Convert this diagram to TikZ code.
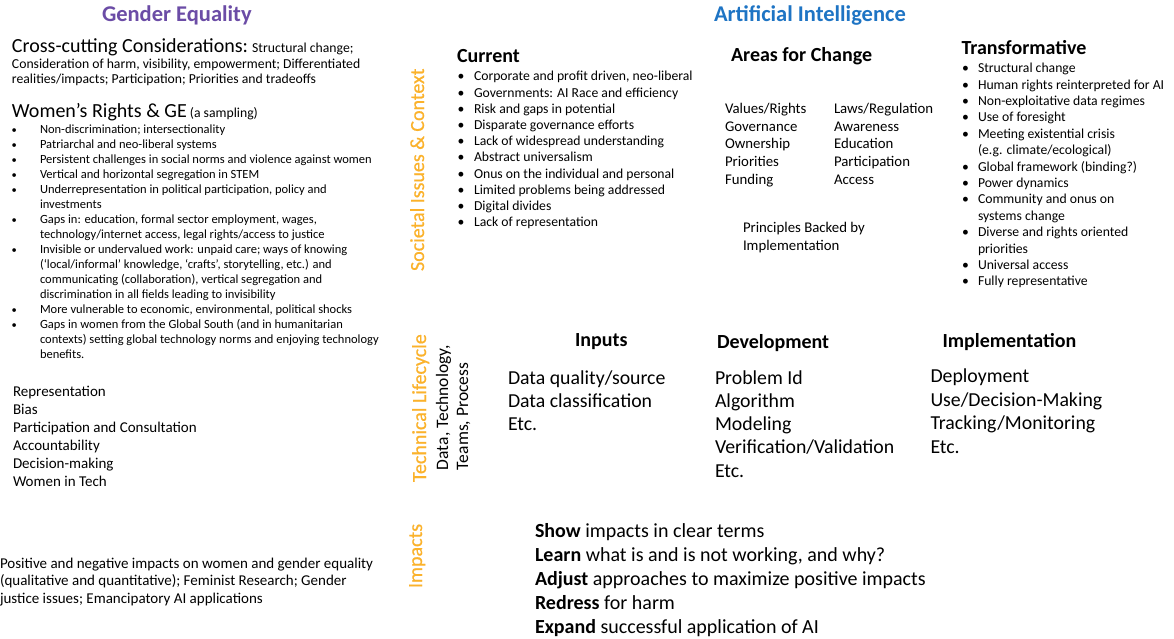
\documentclass[tikz,border=0pt]{standalone}
\usepackage{fontspec}
\setmainfont{Carlito}
\definecolor{gepurple}{HTML}{6B4CA6}
\definecolor{aiblue}{HTML}{1E74C4}
\definecolor{sideorange}{HTML}{FBB22B}
\newcommand{\fsz}[2]{\fontsize{#1pt}{#2pt}\selectfont}
\tikzset{
  txt/.style={anchor=base west, inner sep=0pt, outer sep=0pt},
  ttl/.style={txt, font=\fsz{22.5}{26}\bfseries},
  hdr/.style={txt, font=\fsz{20}{24}\bfseries},
  big/.style={txt, font=\fsz{20}{24}},
  smalltxt/.style={txt, font=\fsz{13.7}{15.3}},
  gebul/.style={txt, font=\fsz{12.5}{15}},
  gelist/.style={txt, font=\fsz{15}{17.9}},
  curlist/.style={txt, font=\fsz{13.7}{16.2}},
  translist/.style={txt, font=\fsz{13.7}{16.4}},
  grid/.style={txt, font=\fsz{14.8}{17.75}},
  lifelist/.style={txt, font=\fsz{19.8}{23.4}},
  implist/.style={txt, font=\fsz{20}{24.1}},
  side/.style={txt, rotate=90, text=sideorange, font=\fsz{20}{24}\addfontfeature{FakeBold=0.6}},
  sidesub/.style={txt, rotate=90, font=\fsz{17.5}{20}},
}
\begin{document}
\begin{tikzpicture}[x=1pt,y=-1pt]
\fill[white] (0,0) rectangle (1174,639);
\useasboundingbox (0,0) rectangle (1174,639);

% ---------------- Gender Equality column
\node[ttl, text=gepurple] (getitle) at (102,22) {Gender Equality};
\node[big] (cc1) at (12,53) {Cross-cutting Considerations:{\fsz{13.7}{15.3} Structural change;}};
\node[smalltxt] (cc2) at (12,68.3) {\begin{tabular}[t]{@{}l@{}}
Consideration of harm, visibility, empowerment; Differentiated\\
realities/impacts; Participation; Priorities and tradeoffs
\end{tabular}};
\node[big] (wr) at (12,117.3) {Women’s Rights \& GE{\fsz{13.7}{15} (a sampling)}};
\node[gebul] (wrlist) at (11.5,133.3) {\begin{tabular}[t]{@{}p{28.5pt}@{}l@{}}
{\fsz{10.5}{15}•} & Non-discrimination; intersectionality\\
{\fsz{10.5}{15}•} & Patriarchal and neo-liberal systems\\
{\fsz{10.5}{15}•} & Persistent challenges in social norms and violence against women\\
{\fsz{10.5}{15}•} & Vertical and horizontal segregation in STEM\\
{\fsz{10.5}{15}•} & Underrepresentation in political participation, policy and\\
  & investments\\
{\fsz{10.5}{15}•} & Gaps in: education, formal sector employment, wages,\\
  & technology/internet access, legal rights/access to justice\\
{\fsz{10.5}{15}•} & Invisible or undervalued work: unpaid care; ways of knowing\\
  & (‘local/informal’ knowledge, ‘crafts’, storytelling, etc.) and\\
  & communicating (collaboration), vertical segregation and\\
  & discrimination in all fields leading to invisibility\\
{\fsz{10.5}{15}•} & More vulnerable to economic, environmental, political shocks\\
{\fsz{10.5}{15}•} & Gaps in women from the Global South (and in humanitarian\\
  & contexts) setting global technology norms and enjoying technology\\
  & benefits.
\end{tabular}};
\node[gelist] (gelife) at (13,396.5) {\begin{tabular}[t]{@{}l@{}}
Representation\\
Bias\\
Participation and Consultation\\
Accountability\\
Decision-making\\
Women in Tech
\end{tabular}};
\node[txt, font=\fsz{15}{17.5}] (geimp) at (0,568.3) {\begin{tabular}[t]{@{}l@{}}
Positive and negative impacts on women and gender equality\\
(qualitative and quantitative); Feminist Research; Gender\\
justice issues; Emancipatory AI applications
\end{tabular}};

% ---------------- Side labels
\node[side] (soc) at (424,271) {Societal Issues \& Context};
\node[side] (tech) at (426,482) {Technical Lifecycle};
\node[side] (imp) at (422,588) {Impacts};
\node[sidesub] (dtp) at (448,470) {\begin{tabular}[t]{@{}l@{}}
Data, Technology,\\
Teams, Process
\end{tabular}};

% ---------------- Artificial Intelligence
\node[ttl, text=aiblue] (aititle) at (714,22) {Artificial Intelligence};

\node[hdr] (cur) at (457,62.7) {Current};
\node[curlist] (curlistn) at (457.5,81) {\begin{tabular}[t]{@{}p{16.5pt}@{}l@{}}
• & Corporate and profit driven, neo-liberal\\
• & Governments: AI Race and efficiency\\
• & Risk and gaps in potential\\
• & Disparate governance efforts\\
• & Lack of widespread understanding\\
• & Abstract universalism\\
• & Onus on the individual and personal\\
• & Limited problems being addressed\\
• & Digital divides\\
• & Lack of representation
\end{tabular}};

\node[hdr] (areas) at (731,61.7) {Areas for Change};
\node[grid] (areasl) at (725,113.3) {\begin{tabular}[t]{@{}l@{}}
Values/Rights\\
Governance\\
Ownership\\
Priorities\\
Funding
\end{tabular}};
\node[grid] (areasr) at (834,113.3) {\begin{tabular}[t]{@{}l@{}}
Laws/Regulation\\
Awareness\\
Education\\
Participation\\
Access
\end{tabular}};
\node[txt, font=\fsz{14.8}{17.3}] (princ) at (743,232.7) {\begin{tabular}[t]{@{}l@{}}
Principles Backed by\\
Implementation
\end{tabular}};

\node[hdr] (trans) at (961.5,55) {Transformative};
\node[translist] (translistn) at (962,72.7) {\begin{tabular}[t]{@{}p{16pt}@{}l@{}}
• & Structural change\\
• & Human rights reinterpreted for AI\\
• & Non-exploitative data regimes\\
• & Use of foresight\\
• & Meeting existential crisis\\
  & (e.g. climate/ecological)\\
• & Global framework (binding?)\\
• & Power dynamics\\
• & Community and onus on\\
  & systems change\\
• & Diverse and rights oriented\\
  & priorities\\
• & Universal access\\
• & Fully representative
\end{tabular}};

% ---------------- Technical lifecycle
\node[hdr] (inputs) at (575,346.5) {Inputs};
\node[lifelist] (inputsl) at (508,384) {\begin{tabular}[t]{@{}l@{}}
Data quality/source\\
Data classification\\
Etc.
\end{tabular}};
\node[hdr] (dev) at (717,348) {Development};
\node[txt, font=\fsz{19.8}{23.3}] (devl) at (715,384) {\begin{tabular}[t]{@{}l@{}}
Problem Id\\
Algorithm\\
Modeling\\
Verification/Validation\\
Etc.
\end{tabular}};
\node[hdr] (impl) at (942.5,347.7) {Implementation};
\node[txt, font=\fsz{19.8}{23.5}] (impll) at (930.5,382.7) {\begin{tabular}[t]{@{}l@{}}
Deployment\\
Use/Decision-Making\\
Tracking/Monitoring\\
Etc.
\end{tabular}};

% ---------------- Impacts
\node[implist] (impl2) at (535,537) {\begin{tabular}[t]{@{}l@{}}
\textbf{Show} impacts in clear terms\\
\textbf{Learn} what is and is not working, and why?\\
\textbf{Adjust} approaches to maximize positive impacts\\
\textbf{Redress} for harm\\
\textbf{Expand} successful application of AI
\end{tabular}};
\end{tikzpicture}
\end{document}
